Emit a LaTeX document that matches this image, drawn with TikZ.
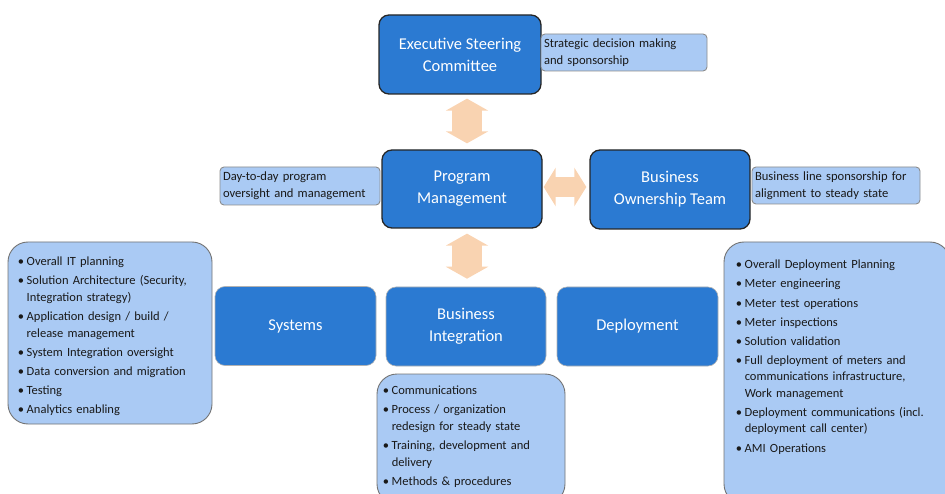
\documentclass[tikz,border=0pt]{standalone}
\usepackage{fontspec}
\setmainfont{Carlito}
\usetikzlibrary{arrows.meta}
% one bullet line of a task list, wrapped lines hang under the text
\newcommand\taskline[1]{\par\hangindent=9pt\hangafter=1\noindent\makebox[9pt][l]{\textbullet}#1\par}
\begin{document}
\begin{tikzpicture}[x=1pt,y=-1pt]
\definecolor{boxblue}{HTML}{2B7AD2}
\definecolor{noteblue}{HTML}{AACAF4}
\definecolor{peach}{HTML}{F9D3B1}
\tikzset{
  unit/.style={rounded corners=10pt, fill=boxblue, text=white, align=center,
    font=\fontsize{16.5}{22}\selectfont, inner sep=0pt},
  lead/.style={unit, draw=black!85, line width=1.3pt},
  team/.style={unit, draw=black!30, line width=0.6pt},
  note/.style={rounded corners=4pt, fill=noteblue, draw=black!45, line width=0.9pt,
    font=\fontsize{12.6}{17}\selectfont, align=left, inner xsep=3pt, inner ysep=0pt,
    text=black!90},
  panel/.style={rounded corners=20pt, fill=noteblue, draw=black!55, line width=0.9pt},
  listtext/.style={font=\fontsize{12.5}{16.5}\selectfont, align=left, inner sep=0pt,
    anchor=north west, text=black!90},
  vlink/.style={peach, line width=30pt,
    {Triangle[length=12pt,width=42pt]}-{Triangle[length=12pt,width=42pt]}},
  hlink/.style={peach, line width=20pt,
    {Triangle[length=12pt,width=38pt]}-{Triangle[length=12pt,width=38pt]}},
}
\useasboundingbox (0,0) rectangle (945,494);

% leadership row
\node[lead, minimum width=162pt, minimum height=79pt] (esc) at (460,54.5)
  {Executive Steering\\Committee};
\node[note, text width=160pt, minimum height=37pt] (escnote) at (624,52.5)
  {Strategic decision making\\and sponsorship};

\node[lead, minimum width=160pt, minimum height=78pt] (pm) at (462,189)
  {Program\\Management};
\node[note, text width=154pt, minimum height=38pt] (pmnote) at (300,186)
  {Day-to-day program\\oversight and management};

\node[lead, minimum width=160pt, minimum height=79pt] (bot) at (670,189.5)
  {Business\\Ownership Team};
\node[note, text width=162pt, minimum height=37pt] (botnote) at (836,185.5)
  {Business line sponsorship for\\alignment to steady state};

% delivery teams
\node[team, minimum width=161pt, minimum height=79pt] (sys) at (295.5,326) {Systems};
\node[team, minimum width=160pt, minimum height=79pt] (bi) at (466,326.5)
  {Business\\Integration};
\node[team, minimum width=161pt, minimum height=79pt] (dep) at (637.5,326.5) {Deployment};

% task panels
\node[panel, minimum width=204pt, minimum height=182pt] (syspanel) at (110,333) {};
\node[listtext, text width=194pt] (systasks) at ([xshift=10pt,yshift=-5pt]syspanel.north west) {%
  \setlength{\parskip}{2.6pt}%
  \taskline{Overall IT planning}
  \taskline{Solution Architecture (Security,\newline Integration strategy)}
  \taskline{Application design / build /\newline release management}
  \taskline{System Integration oversight}
  \taskline{Data conversion and migration}
  \taskline{Testing}
  \taskline{Analytics enabling}};

\node[panel, minimum width=188pt, minimum height=130pt] (bipanel) at (471,439) {};
\node[listtext, text width=180pt] (bitasks) at ([xshift=6pt,yshift=-2pt]bipanel.north west) {%
  \setlength{\parskip}{2.6pt}%
  \taskline{Communications}
  \taskline{Process / organization\newline redesign for steady state}
  \taskline{Training, development and\newline delivery}
  \taskline{Methods \& procedures}};

\node[panel, minimum width=226pt, minimum height=262pt] (deppanel) at (837,373) {};
\node[listtext, text width=212pt] (deptasks) at ([xshift=12pt,yshift=-8pt]deppanel.north west) {%
  \setlength{\parskip}{2.6pt}%
  \taskline{Overall Deployment Planning}
  \taskline{Meter engineering}
  \taskline{Meter test operations}
  \taskline{Meter inspections}
  \taskline{Solution validation}
  \taskline{Full deployment of meters and\newline communications infrastructure,\newline Work management}
  \taskline{Deployment communications (incl.\newline deployment call center)}
  \taskline{AMI Operations}};

% two-way links between the leadership units
\draw[vlink, shorten <=4pt, shorten >=6pt] ([xshift=7pt]esc.south) -- ([xshift=5pt]pm.north);
\draw[hlink, shorten <=1pt, shorten >=3pt] ([yshift=2pt]pm.east) -- ([yshift=2.5pt]bot.west);
\draw[vlink, shorten <=5pt, shorten >=8pt] ([xshift=5pt]pm.south) -- ([xshift=1pt]bi.north);
\end{tikzpicture}
\end{document}
